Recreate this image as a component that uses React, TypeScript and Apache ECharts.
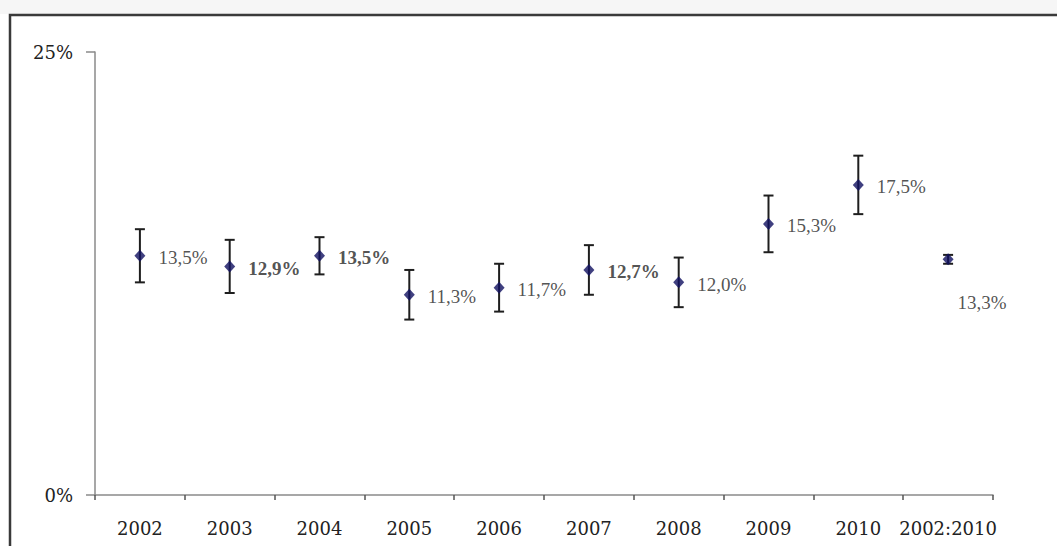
import React, { useEffect, useRef } from "react";
import * as echarts from "echarts";

const categories = ["2002", "2003", "2004", "2005", "2006", "2007", "2008", "2009", "2010", "2002:2010"];
const values = [13.5, 12.9, 13.5, 11.3, 11.7, 12.7, 12.0, 15.3, 17.5, 13.3];
const errors = [1.5, 1.5, 1.05, 1.4, 1.35, 1.4, 1.4, 1.6, 1.65, 0.25];
const boldLabels = [false, true, true, false, false, true, false, false, false, false];
const yTicks = [0, 25];

const fmt = (v: number) => v.toFixed(1).replace(".", ",") + "%";

export default function App() {
  const ref = useRef<HTMLDivElement>(null);
  useEffect(() => {
    if (!ref.current) return;
    const chart = echarts.init(ref.current, undefined, { renderer: "svg" });
    const last = values.length - 1;
    chart.setOption({
      animation: false,
      backgroundColor: "#ffffff",
      graphic: [
        { type: "rect", shape: { x: 0, y: 0, width: 1057, height: 14 }, style: { fill: "#f6f6f6" }, silent: true, z: -10 },
        { type: "rect", shape: { x: 10, y: 15, width: 1200, height: 700 }, style: { fill: "none", stroke: "#3a3a3a", lineWidth: 2.5 }, silent: true, z: -5 },
      ],
      grid: { left: 95, right: 64, top: 52, bottom: 51 },
      xAxis: {
        type: "category",
        data: categories,
        boundaryGap: true,
        axisLine: { lineStyle: { color: "#8a8a8a", width: 1.5 } },
        axisTick: { show: true, length: 5, lineStyle: { color: "#555", width: 1.5 } },
        axisLabel: {
          interval: 0,
          margin: 24,
          fontFamily: "DejaVu Serif",
          fontSize: 18,
          color: "#222",
        },
        splitLine: { show: false },
      },
      yAxis: {
        type: "value",
        min: yTicks[0],
        max: yTicks[1],
        interval: 25,
        axisLine: { show: true, lineStyle: { color: "#8a8a8a", width: 1.5 } },
        axisTick: { show: true, length: 9, lineStyle: { color: "#8a8a8a", width: 1.5 } },
        splitLine: { show: false },
        axisLabel: {
          formatter: (v: number) => v + "%",
          margin: 22,
          fontFamily: "DejaVu Serif",
          fontSize: 18,
          color: "#222",
        },
      },
      series: [
        {
          type: "custom",
          z: 2,
          data: values.map((v, i) => [i, v - errors[i], v + errors[i]]),
          encode: { x: 0, y: [1, 2] },
          renderItem: (params: any, api: any) => {
            const x = api.value(0);
            const lo = api.coord([x, api.value(1)]);
            const hi = api.coord([x, api.value(2)]);
            const cx = lo[0];
            const cap = 5;
            const style = { stroke: "#1e1e1e", lineWidth: 2 };
            return {
              type: "group",
              children: [
                { type: "line", shape: { x1: cx, y1: hi[1], x2: cx, y2: lo[1] }, style },
                { type: "line", shape: { x1: cx - cap, y1: hi[1], x2: cx + cap, y2: hi[1] }, style },
                { type: "line", shape: { x1: cx - cap, y1: lo[1], x2: cx + cap, y2: lo[1] }, style },
              ],
            };
          },
        },
        {
          type: "scatter",
          z: 5,
          symbol: "diamond",
          symbolSize: [11, 12],
          itemStyle: { color: "#101060" },
          label: {
            show: true,
            position: "right",
            distance: 13,
            fontFamily: "Liberation Serif",
            fontSize: 19,
            color: "#262626",
            formatter: (p: any) => fmt(values[p.dataIndex]),
          },
          data: values.map((v, i) => ({
            value: v,
            label:
              i === last
                ? { position: "bottom", distance: 28, offset: [34, 0] }
                : { fontWeight: boldLabels[i] ? "bold" : "normal", offset: [0, 2] },
          })),
        },
      ],
    });
    return () => chart.dispose();
  }, []);
  return (
    <div
      ref={ref}
      style={{ position: "absolute", left: 0, top: 0, width: 1057, height: 546 }}
    />
  );
}
